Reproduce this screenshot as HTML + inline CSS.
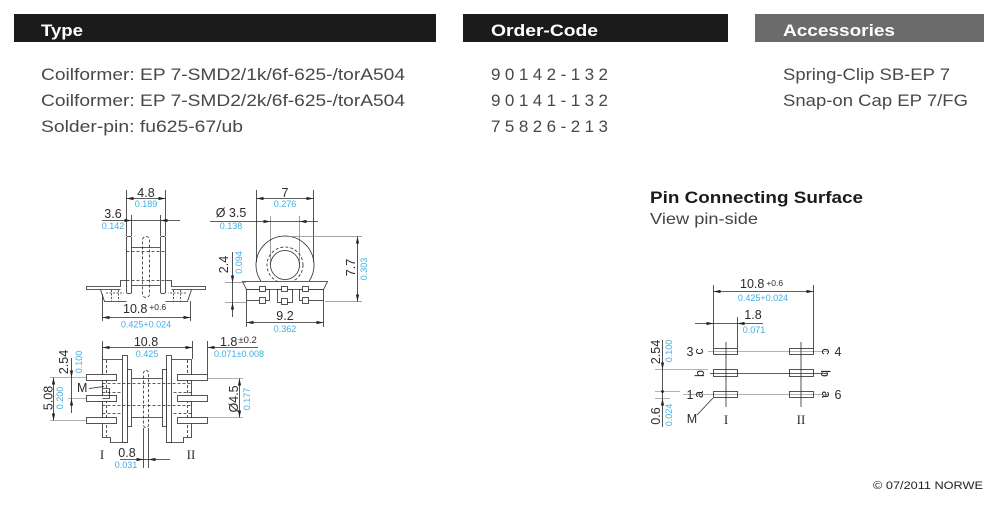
<!DOCTYPE html>
<html><head><meta charset="utf-8"><style>
html,body{margin:0;padding:0;background:#fff;}
svg{display:block}
text{font-family:"Liberation Sans",Arial,sans-serif;}
.s{font-family:"Liberation Serif",serif;}
</style></head><body>
<svg width="1000" height="506" viewBox="0 0 1000 506" xmlns="http://www.w3.org/2000/svg">
<defs>
<marker id="a" viewBox="0 0 7 4" refX="7" refY="2" markerWidth="7" markerHeight="4" markerUnits="userSpaceOnUse" orient="auto-start-reverse"><path d="M0,0.4 L7,2 L0,3.6 z" fill="#222"/></marker>
</defs>

<!-- header bars -->
<rect x="14" y="14" width="422" height="28" fill="#1b1b1b"/>
<rect x="463" y="14" width="265" height="28" fill="#1b1b1b"/>
<rect x="755" y="14" width="229" height="28" fill="#6b6b6b"/>
<text x="41" y="36" font-size="17" font-weight="bold" fill="#fff" textLength="42" lengthAdjust="spacingAndGlyphs">Type</text>
<text x="491" y="36" font-size="17" font-weight="bold" fill="#fff" textLength="107" lengthAdjust="spacingAndGlyphs">Order-Code</text>
<text x="783" y="36" font-size="17" font-weight="bold" fill="#fff" textLength="112" lengthAdjust="spacingAndGlyphs">Accessories</text>

<!-- body text -->
<g font-size="17" fill="#484848">
<text x="41" y="80" textLength="364" lengthAdjust="spacingAndGlyphs">Coilformer: EP 7-SMD2/1k/6f-625-/torA504</text>
<text x="41" y="106" textLength="364" lengthAdjust="spacingAndGlyphs">Coilformer: EP 7-SMD2/2k/6f-625-/torA504</text>
<text x="41" y="132" textLength="202" lengthAdjust="spacingAndGlyphs">Solder-pin: fu625-67/ub</text>
<text x="491" y="80" textLength="117" lengthAdjust="spacing">90142-132</text>
<text x="491" y="106" textLength="117" lengthAdjust="spacing">90141-132</text>
<text x="491" y="132" textLength="117" lengthAdjust="spacing">75826-213</text>
<text x="783" y="80" textLength="167" lengthAdjust="spacingAndGlyphs">Spring-Clip SB-EP 7</text>
<text x="783" y="106" textLength="185" lengthAdjust="spacingAndGlyphs">Snap-on Cap EP 7/FG</text>
</g>

<text x="650" y="203" font-size="17" font-weight="bold" fill="#1b1b1b" textLength="213" lengthAdjust="spacingAndGlyphs">Pin Connecting Surface</text>
<text x="650" y="224" font-size="16" fill="#444" textLength="108" lengthAdjust="spacingAndGlyphs">View pin-side</text>

<text x="983" y="489" font-size="11" fill="#222" text-anchor="end" textLength="110" lengthAdjust="spacingAndGlyphs">© 07/2011 NORWE</text>

<!-- ================= SIDE VIEW ================= -->
<g stroke="#2a2a2a" stroke-width="0.8" fill="none">
 <path d="M126.5,190V236 M165.5,190V236 M131.5,215V236 M160.5,215V236"/>
 <path d="M126.5,198.5H165.5" marker-start="url(#a)" marker-end="url(#a)"/>
 <path d="M102,220.5H131.5" marker-end="url(#a)"/>
 <path d="M180,220.5H160.5" marker-end="url(#a)"/>
 <path d="M131.5,220.5H160.5"/>
 <g id="sl">
  <rect x="126.5" y="236.5" width="5" height="57" rx="1.5"/>
  <path d="M126.5,280.5H120.5V286.5H86.5V289.5H100.5L104.5,301.5H126.5 M100.5,289.5H120.5"/>
  <path d="M106,293H124 M111.5,290V301 M118.5,290V301" stroke-dasharray="2,1.5"/>
 </g>
 <use href="#sl" transform="matrix(-1,0,0,1,292,0)"/>
 <path d="M131.5,247.5H160.5 M131.5,285.5H160.5"/>
 <path d="M126.5,251.5H165.5 M126.5,280.5H165.5" stroke-dasharray="3,2"/>
 <rect x="142.5" y="236.5" width="7" height="61" rx="3.5" stroke-dasharray="3,2"/>
 <path d="M102.5,294V321 M190.5,301V321"/>
 <path d="M102.5,317.5H190.5" marker-start="url(#a)" marker-end="url(#a)"/>
</g>
<g fill="#2a2a2a" font-size="12.5">
 <text x="146" y="197" text-anchor="middle">4.8</text>
 <text x="113" y="218" text-anchor="middle">3.6</text>
 <text x="123" y="313">10.8<tspan font-size="8.5" dx="2" dy="-3">+0.6</tspan></text>
</g>
<g fill="#3cb0e4" font-size="9" text-anchor="middle">
 <text x="146" y="207">0.189</text>
 <text x="113" y="229">0.142</text>
 <text x="146" y="327.5">0.425+0.024</text>
</g>

<!-- ================= FRONT VIEW ================= -->
<g stroke="#2a2a2a" stroke-width="0.8" fill="none">
 <path d="M256.5,190V262 M313.5,190V262"/>
 <path d="M256.5,198.5H313.5" marker-start="url(#a)" marker-end="url(#a)"/>
 <path d="M270.5,216V265 M299.5,216V265" stroke="#888"/>
 <path d="M210,221.5H270.5" marker-end="url(#a)"/>
 <path d="M318,221.5H299.5" marker-end="url(#a)"/>
 <path d="M270.5,221.5H299.5"/>
 <path d="M260.8,281A29,29 0 1,1 309.2,281"/>
 <circle cx="285" cy="265" r="18" stroke-dasharray="3,2"/>
 <circle cx="285" cy="265" r="14.5"/>
 <polygon points="242.5,281.5 327.5,281.5 323.5,289.5 246.5,289.5" fill="#fff"/>
 <rect x="246.5" y="289.5" width="23" height="11" fill="#fff"/>
 <rect x="277.5" y="289.5" width="15" height="13" fill="#fff"/>
 <rect x="299.5" y="289.5" width="24" height="11" fill="#fff"/>
 <rect x="259.5" y="286.5" width="6" height="5" fill="#fff"/>
 <rect x="281.5" y="286.5" width="6" height="5" fill="#fff"/>
 <rect x="302.5" y="286.5" width="6" height="5" fill="#fff"/>
 <rect x="259.5" y="297.5" width="6" height="6" fill="#fff"/>
 <rect x="281.5" y="298.5" width="6" height="6" fill="#fff"/>
 <rect x="302.5" y="297.5" width="6" height="6" fill="#fff"/>
 <path d="M225,282.5H246 M225,302.5H246" stroke="#888"/>
 <path d="M232.5,252V282.5" marker-end="url(#a)"/>
 <path d="M232.5,317V302.5" marker-end="url(#a)"/>
 <path d="M232.5,282.5V302.5"/>
 <path d="M285,236.5H362 M325,301.5H362" stroke="#888"/>
 <path d="M357.5,236.5V301.5" marker-start="url(#a)" marker-end="url(#a)"/>
 <path d="M246.5,301V327 M323.5,301V327"/>
 <path d="M246.5,322.5H323.5" marker-start="url(#a)" marker-end="url(#a)"/>
</g>
<g fill="#2a2a2a" font-size="12.5" text-anchor="middle">
 <text x="285" y="197">7</text>
 <text x="231" y="217">Ø 3.5</text>
 <text transform="translate(228,264.5) rotate(-90)">2.4</text>
 <text transform="translate(355,267.5) rotate(-90)">7.7</text>
 <text x="285" y="320">9.2</text>
</g>
<g fill="#3cb0e4" font-size="9" text-anchor="middle">
 <text x="285" y="207">0.276</text>
 <text x="231" y="229">0.138</text>
 <text transform="translate(242,262.5) rotate(-90)">0.094</text>
 <text transform="translate(367,269) rotate(-90)">0.303</text>
 <text x="285" y="332">0.362</text>
</g>

<!-- ================= TOP VIEW (bottom-left) ================= -->
<g stroke="#2a2a2a" stroke-width="0.8" fill="none">
 <path d="M102.5,341V359 M192.5,341V359 M207.5,341V374"/>
 <path d="M102.5,347.5H192.5" marker-start="url(#a)" marker-end="url(#a)"/>
 <path d="M258,347.5H207.5" marker-end="url(#a)"/>
 <g id="bl">
  <path d="M122.5,359.5H102.5V437.5H110.5V442.5H127.5"/>
  <rect x="122.5" y="355.5" width="5" height="87" fill="#fff"/>
  <rect x="127.5" y="369.5" width="4" height="57" fill="#fff"/>
  <path d="M106.5,360V437" stroke-dasharray="3,2"/>
  <path d="M102.5,392.5H122 M102.5,413.5H122" stroke-dasharray="3,2"/>
 </g>
 <use href="#bl" transform="matrix(-1,0,0,1,294,0)"/>
 <path d="M131.5,378.5H162.5 M131.5,417.5H162.5"/>
 <path d="M102.5,383.5H191.5 M102.5,405.5H191.5" stroke-dasharray="3,2"/>
 <rect x="143.5" y="370.5" width="5" height="57" rx="2.5" stroke-dasharray="3,2"/>
 <g fill="#fff">
  <rect x="86.5" y="374.5" width="30" height="6"/>
  <rect x="86.5" y="395.5" width="30" height="6"/>
  <rect x="86.5" y="417.5" width="30" height="6"/>
  <rect x="177.5" y="374.5" width="30" height="6"/>
  <rect x="177.5" y="395.5" width="30" height="6"/>
  <rect x="177.5" y="417.5" width="30" height="6"/>
 </g>
 <path d="M102.5,388.5H109.5V398.5H102.5"/>
 <path d="M89,388.5L104,386.5"/>
 <path d="M143.5,428V468 M148.5,428V468"/>
 <path d="M120,459.5H143.5" marker-end="url(#a)"/>
 <path d="M170,459.5H148.5" marker-end="url(#a)"/>
 <path d="M143.5,459.5H148.5"/>
 <path d="M50,377.5H86 M50,420.5H86 M68,398.5H86" stroke="#999"/>
 <path d="M53.5,377.5V420.5" marker-start="url(#a)" marker-end="url(#a)"/>
 <path d="M71.5,358V377.5" marker-end="url(#a)"/>
 <path d="M71.5,413V398.5" marker-end="url(#a)"/>
 <path d="M71.5,377.5V398.5"/>
 <path d="M208,378.5H243 M208,417.5H243" stroke="#999"/>
 <path d="M239.5,378.5V417.5" marker-start="url(#a)" marker-end="url(#a)"/>
</g>
<g fill="#2a2a2a" font-size="12.5">
 <text x="146" y="346" text-anchor="middle">10.8</text>
 <text x="220" y="346">1.8<tspan font-size="9.5" dx="1" dy="-3">±0.2</tspan></text>
 <text transform="translate(68,362) rotate(-90)" text-anchor="middle">2.54</text>
 <text transform="translate(52.5,398) rotate(-90)" text-anchor="middle">5.08</text>
 <text x="77" y="392">M</text>
 <text transform="translate(238,399) rotate(-90)" text-anchor="middle">Ø4.5</text>
 <text x="127" y="457" text-anchor="middle">0.8</text>
 <text class="s" x="102" y="459" font-size="13" text-anchor="middle">I</text>
 <text class="s" x="191" y="459" font-size="13" text-anchor="middle">II</text>
</g>
<g fill="#3cb0e4" font-size="9">
 <text x="147" y="357" text-anchor="middle">0.425</text>
 <text x="214" y="357">0.071±0.008</text>
 <text transform="translate(82,362) rotate(-90)" text-anchor="middle">0.100</text>
 <text transform="translate(63,398) rotate(-90)" text-anchor="middle">0.200</text>
 <text transform="translate(250,399) rotate(-90)" text-anchor="middle">0.177</text>
 <text x="126" y="468" text-anchor="middle">0.031</text>
</g>

<!-- ================= PIN CONNECTING SURFACE ================= -->
<g stroke="#2a2a2a" stroke-width="0.8" fill="none">
 <path d="M713.5,285V348 M813.5,285V348"/>
 <path d="M713.5,291.5H813.5" marker-start="url(#a)" marker-end="url(#a)"/>
 <path d="M737.5,317V348"/>
 <path d="M695,323.5H713.5" marker-end="url(#a)"/>
 <path d="M763,323.5H737.5" marker-end="url(#a)"/>
 <path d="M713.5,323.5H737.5"/>
 <path d="M708,351.5H829" stroke="#999"/>
 <path d="M655,369.5H708" stroke="#999"/>
 <path d="M710,373.5H827"/>
 <path d="M683,394.5H829" stroke="#999"/>
 <path d="M655,391.5H680 M655,398.5H670" stroke="#999"/>
 <rect x="713.5" y="348.5" width="24" height="6"/>
 <rect x="713.5" y="369.5" width="24" height="7"/>
 <rect x="713.5" y="391.5" width="24" height="6"/>
 <rect x="789.5" y="348.5" width="24" height="6"/>
 <rect x="789.5" y="369.5" width="24" height="7"/>
 <rect x="789.5" y="391.5" width="24" height="6"/>
 <path d="M726,342V407 M801,342V407"/>
 <path d="M662.5,340V369.5" marker-end="url(#a)"/>
 <path d="M662.5,427V398.5" marker-end="url(#a)"/>
 <path d="M662.5,369.5V398.5"/>
 <path d="M697,415L713,398"/>
</g>
<circle cx="662.5" cy="391.5" r="1.4" fill="#222"/>
<g fill="#2a2a2a" font-size="12.5">
 <text x="740" y="288">10.8<tspan font-size="8.5" dx="2" dy="-2">+0.6</tspan></text>
 <text x="753" y="319" text-anchor="middle">1.8</text>
 <text x="690" y="356" text-anchor="middle">3</text>
 <text x="690" y="399" text-anchor="middle">1</text>
 <text x="838" y="356" text-anchor="middle">4</text>
 <text x="838" y="399" text-anchor="middle">6</text>
 <text transform="translate(703,351.5) rotate(-90)" text-anchor="middle">c</text>
 <text transform="translate(704,373.5) rotate(-90)" text-anchor="middle">b</text>
 <text transform="translate(703,394.5) rotate(-90)" text-anchor="middle">a</text>
 <text transform="translate(822,351.5) rotate(90)" text-anchor="middle">c</text>
 <text transform="translate(821,373.5) rotate(90)" text-anchor="middle">b</text>
 <text transform="translate(822,394.5) rotate(90)" text-anchor="middle">a</text>
 <text transform="translate(660,352) rotate(-90)" text-anchor="middle">2.54</text>
 <text transform="translate(660,416) rotate(-90)" text-anchor="middle">0.6</text>
 <text x="692" y="423" text-anchor="middle">M</text>
 <text class="s" x="726" y="424" font-size="13" text-anchor="middle">I</text>
 <text class="s" x="801" y="424" font-size="13" text-anchor="middle">II</text>
</g>
<g fill="#3cb0e4" font-size="9" text-anchor="middle">
 <text x="763" y="301">0.425+0.024</text>
 <text x="754" y="333">0.071</text>
 <text transform="translate(672,351) rotate(-90)">0.100</text>
 <text transform="translate(672,415) rotate(-90)">0.024</text>
</g>
</svg>
</body></html>
